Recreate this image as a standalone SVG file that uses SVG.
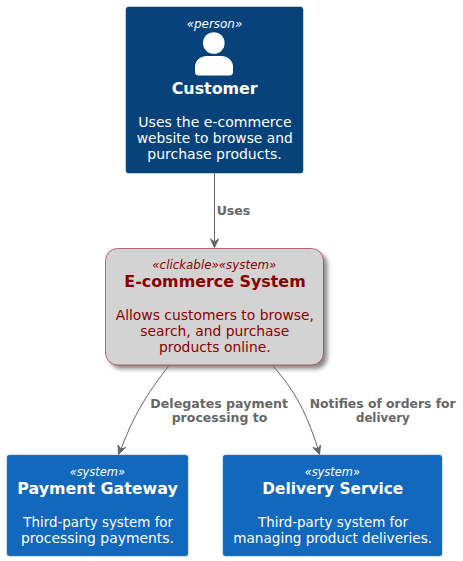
<svg xmlns="http://www.w3.org/2000/svg" width="463" height="561" viewBox="0 0 463 561">
<style>
text{font-family:"DejaVu Sans",sans-serif;text-anchor:middle}
.st{font-size:12px;font-style:italic}
.ti{font-size:16px;font-weight:bold}
.bd{font-size:14px}
.w{fill:#fff}
.r{fill:#8B0000}
.lb{font-size:12px;font-weight:bold;fill:#666}
.cn{fill:none;stroke:#666;stroke-width:1}
.ah{fill:#666;stroke:#666;stroke-width:1}
</style>
<defs>
<filter id="sh" x="-10%" y="-10%" width="125%" height="125%"><feGaussianBlur stdDeviation="2"/></filter>
</defs>
<g id="connectors">
<path class="cn" d="M214.500 173.500V243"/>
<path class="ah" d="M214.500 247.500 L218.500 239 L214.500 242 L210.500 239Z"/>
<path class="cn" d="M169 365.500C152 388 137 407 121 449"/>
<path class="ah" d="M118.500 454.500 L125.500 447.500 L121 449 L118 445Z"/>
<path class="cn" d="M272.500 365.500C290 385 305 407 318 449"/>
<path class="ah" d="M319.500 454.500 L320.500 445 L318 449 L313 447.500Z"/>
<text class="lb" x="233.500" y="215" textLength="33.700" lengthAdjust="spacingAndGlyphs">Uses</text>
<text class="lb" x="219.200" y="408" textLength="137.700" lengthAdjust="spacingAndGlyphs">Delegates payment</text>
<text class="lb" x="219.500" y="422" textLength="95.700" lengthAdjust="spacingAndGlyphs">processing to</text>
<text class="lb" x="382.700" y="408" textLength="146" lengthAdjust="spacingAndGlyphs">Notifies of orders for</text>
<text class="lb" x="382.800" y="422" textLength="53.700" lengthAdjust="spacingAndGlyphs">delivery</text>
</g>
<g id="customer">
<rect x="126" y="7" width="177" height="166" rx="2.500" fill="#08427B" stroke="#073B6F" stroke-width=".5"/>
<text class="st w" x="214.500" y="28" textLength="55.600" lengthAdjust="spacingAndGlyphs">«person»</text>
<circle cx="213.800" cy="43" r="10.800" class="w"/>
<path class="w" d="M195.500 72.500V67C195.500 60 201 56.500 207 56.500H221C227 56.500 232.500 60 232.500 67V72.500Q232.500 75 230 75H198Q195.500 75 195.500 72.500Z" stroke="#fff"/>
<text class="ti w" x="214.700" y="94" textLength="86" lengthAdjust="spacingAndGlyphs">Customer</text>
<text class="bd w" x="215" y="127" textLength="153.400" lengthAdjust="spacingAndGlyphs">Uses the e-commerce</text>
<text class="bd w" x="214.700" y="143" textLength="156" lengthAdjust="spacingAndGlyphs">website to browse and</text>
<text class="bd w" x="214.500" y="159" textLength="134.400" lengthAdjust="spacingAndGlyphs">purchase products.</text>
</g>
<g id="ecommerce">
<rect x="109.500" y="252.500" width="218" height="116.500" rx="12" fill="#777" opacity=".85" filter="url(#sh)"/>
<rect x="105.500" y="248.500" width="218" height="116.500" rx="12" fill="#D3D3D3" stroke="#A94442" stroke-width=".8"/>
<text class="st r" x="214.300" y="269" textLength="124" lengthAdjust="spacingAndGlyphs">«clickable»«system»</text>
<text class="ti r" x="215" y="287" textLength="181.400" lengthAdjust="spacingAndGlyphs">E-commerce System</text>
<text class="bd r" x="214.800" y="320" textLength="198.300" lengthAdjust="spacingAndGlyphs">Allows customers to browse,</text>
<text class="bd r" x="214.800" y="336" textLength="149" lengthAdjust="spacingAndGlyphs">search, and purchase</text>
<text class="bd r" x="214.800" y="352" textLength="111.700" lengthAdjust="spacingAndGlyphs">products online.</text>
</g>
<g id="payment">
<rect x="7" y="455" width="181" height="101" rx="2.500" fill="#1168BD" stroke="#3C7FC0" stroke-width=".5"/>
<text class="st w" x="97.300" y="476" textLength="55.300" lengthAdjust="spacingAndGlyphs">«system»</text>
<text class="ti w" x="97.500" y="494" textLength="160.400" lengthAdjust="spacingAndGlyphs">Payment Gateway</text>
<text class="bd w" x="98.200" y="527" textLength="149.700" lengthAdjust="spacingAndGlyphs">Third-party system for</text>
<text class="bd w" x="97.500" y="543" textLength="153" lengthAdjust="spacingAndGlyphs">processing payments.</text>
</g>
<g id="delivery">
<rect x="223" y="455" width="219" height="101" rx="2.500" fill="#1168BD" stroke="#3C7FC0" stroke-width=".5"/>
<text class="st w" x="332.300" y="476" textLength="55.300" lengthAdjust="spacingAndGlyphs">«system»</text>
<text class="ti w" x="332.800" y="494" textLength="141" lengthAdjust="spacingAndGlyphs">Delivery Service</text>
<text class="bd w" x="333" y="527" textLength="150" lengthAdjust="spacingAndGlyphs">Third-party system for</text>
<text class="bd w" x="332.700" y="543" textLength="198.700" lengthAdjust="spacingAndGlyphs">managing product deliveries.</text>
</g>
</svg>
